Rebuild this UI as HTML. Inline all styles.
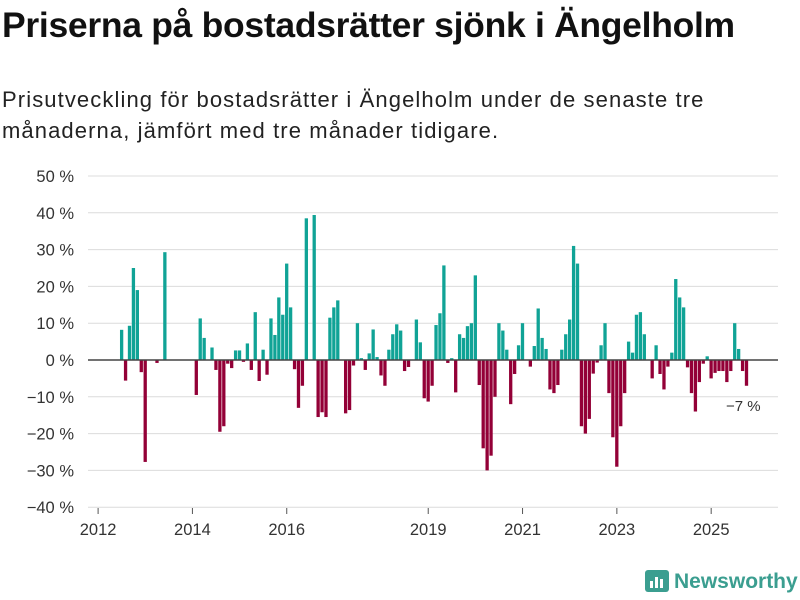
<!DOCTYPE html>
<html><head><meta charset="utf-8">
<style>
body{margin:0;width:800px;height:600px;background:#fff;font-family:"Liberation Sans",sans-serif;overflow:hidden}
#title{position:absolute;left:2px;top:5px;font-size:35.5px;font-weight:bold;color:#111;letter-spacing:-0.3px;white-space:nowrap}
#sub{position:absolute;left:2px;top:84px;font-size:22px;letter-spacing:1.1px;line-height:31px;color:#222;width:790px;white-space:nowrap}
svg{position:absolute;left:0;top:0}
</style></head><body>
<div id="title">Priserna på bostadsrätter sjönk i Ängelholm</div>
<div id="sub">Prisutveckling för bostadsrätter i Ängelholm under de senaste tre<br>månaderna, jämfört med tre månader tidigare.</div>
<svg id="chart" width="800" height="600"></svg>
<script>
const yTicks=[50,40,30,20,10,0,-10,-20,-30,-40];
const yearLabels=["2012","2014","2016","2019","2021","2023","2025"];
const yearIdx=[0,24,48,84,108,132,156];
const values=[null,null,null,null,null,null,8.2,-5.6,9.3,25,19,-3.3,-27.7,0,0,-0.8,0,29.3,0,0,0,0,0,0,0,-9.5,11.3,6,0,3.4,-2.7,-19.5,-18,-1,-2.2,2.6,2.6,-0.5,4.5,-2.7,13,-5.7,2.8,-4,11.3,6.8,17,12.3,26.2,14.3,-2.5,-13,-7,38.5,0,39.4,-15.5,-14.2,-15.5,11.5,14.3,16.2,0,-14.5,-13.6,-1.5,10,0.5,-2.7,1.8,8.3,0.8,-4.2,-7,2.8,7,9.7,8,-3,-1.9,0,11,4.8,-10.4,-11.3,-7,9.5,12.7,25.7,-0.8,0.5,-8.8,7,6,9.2,10,23,-6.8,-24,-30,-26,-10,10,8,2.8,-12,-3.8,4,10,0,-1.8,3.8,14,6,3,-8,-9,-6.8,2.8,7,11,31,26.2,-18,-20,-16,-3.7,-0.7,4,10,-9,-21,-29,-18,-9,5,2,12.3,13,7,0,-5,4,-3.8,-8,-1.8,2,22,17,14.3,-2,-9,-14,-6,-1,1,-5,-3.5,-3,-3,-6,-3,10,3,-3,-7];
const svg=document.getElementById('chart');const NS='http://www.w3.org/2000/svg';
const y=v=>360-v*3.68;
const x=i=>96.4+i*3.93;
function mk(t,a){const e=document.createElementNS(NS,t);for(const k in a)e.setAttribute(k,a[k]);svg.appendChild(e);return e;}
yTicks.forEach(t=>{
 const g=mk('line',{x1:88,x2:778,y1:y(t),y2:y(t),stroke:'#dcdcdc','stroke-width':1});
 
 
 const l=mk('text',{x:74,y:y(t)+6,'text-anchor':'end','font-size':16.5,fill:'#333','font-family':'Liberation Sans, sans-serif'});
 l.textContent=(t<0?'−'+(-t):t)+' %';
 
 
});
values.forEach((v,i)=>{
 if(v===null||v===0)return;
 const r=mk('rect',{x:x(i),width:3.3,y:Math.min(y(v),y(0)),height:Math.abs(y(v)-y(0)),fill:v>0?'#10a396':'#930037'});
 
 
});
const z=mk('line',{x1:88,x2:778,y1:y(0),y2:y(0),stroke:'#444','stroke-width':1.5});


yearIdx.forEach((idx,k)=>{
 const cx=x(idx)+1.7;
 const tk=mk('line',{x1:cx,x2:cx,y1:508,y2:514,stroke:'#555'});
 
 
 const t=mk('text',{x:cx,y:535,'text-anchor':'middle','font-size':16.5,fill:'#333','font-family':'Liberation Sans, sans-serif'});
 t.textContent=yearLabels[k];
 
 
});
const last=mk('text',{x:726,y:411,'font-size':15,fill:'#333','font-family':'Liberation Sans, sans-serif'});
last.textContent='−7 %';


</script>
<div style="position:absolute;left:645px;top:570px;display:flex;align-items:center">
<svg width="24" height="24" style="position:static"><rect x="0" y="0" width="24" height="22" rx="3" fill="#3b9e90"/><rect x="5" y="11" width="3" height="7" fill="#fff"/><rect x="10" y="7" width="3" height="11" fill="#fff"/><rect x="15" y="9" width="3" height="9" fill="#fff"/></svg>
<span style="font-size:21px;font-weight:bold;color:#3b9e90;margin-left:5px">Newsworthy</span></div>
</body></html>
